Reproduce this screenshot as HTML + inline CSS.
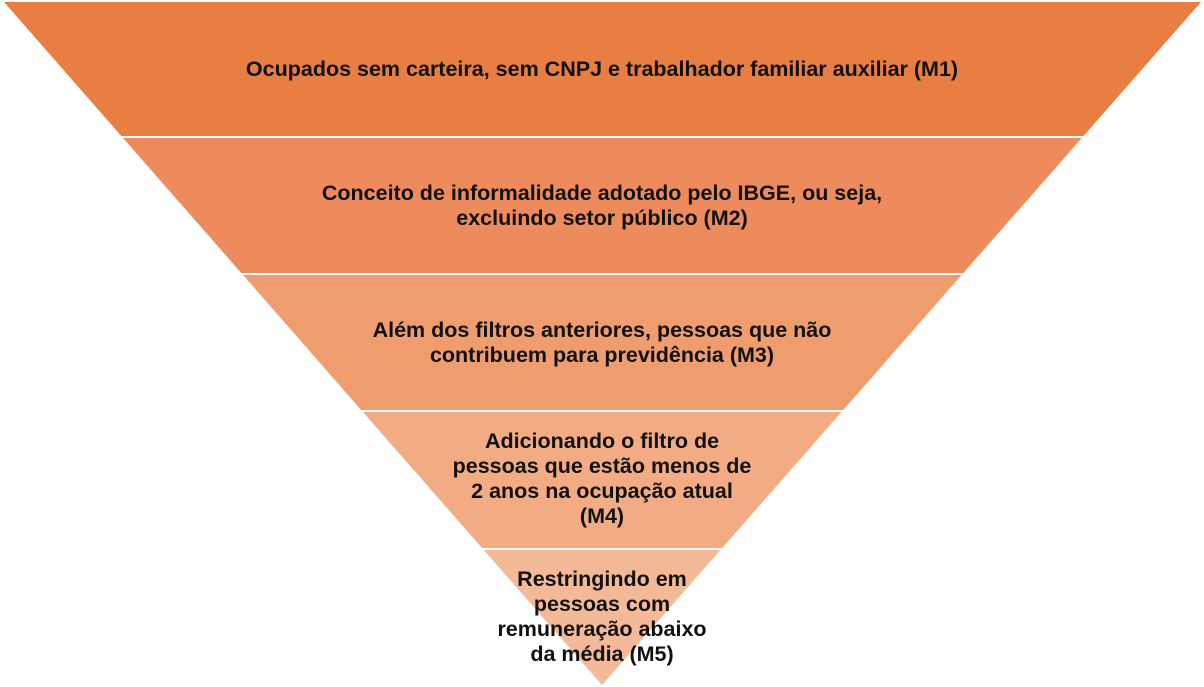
<!DOCTYPE html><html><head><style>
body{margin:0;width:1204px;height:687px;background:#fff;overflow:hidden;position:relative;font-family:"Liberation Sans",sans-serif}
.t{position:absolute;left:0;width:1204px;text-align:center;font-weight:bold;font-size:21.5px;line-height:25px;color:#111}
</style></head><body>
<svg width="1204" height="687" style="position:absolute;left:0;top:0">
<clipPath id="c"><polygon points="4,2 1201,2 602,685"/></clipPath>
<g clip-path="url(#c)">
<rect x="0" y="0" width="1204" height="136" fill="#E87E42"/>
<rect x="0" y="138" width="1204" height="135" fill="#ED8B5C"/>
<rect x="0" y="275" width="1204" height="135" fill="#EF9C6E"/>
<rect x="0" y="412" width="1204" height="136" fill="#F2AB82"/>
<rect x="0" y="550" width="1204" height="140" fill="#F4BA97"/>
</g></svg>
<div class="t" style="top:57px">Ocupados sem carteira, sem CNPJ e trabalhador familiar auxiliar (M1)</div>
<div class="t" style="top:181px">Conceito de informalidade adotado pelo IBGE, ou seja,<br>excluindo setor público (M2)</div>
<div class="t" style="top:318px">Além dos filtros anteriores, pessoas que não<br>contribuem para previdência (M3)</div>
<div class="t" style="top:429px">Adicionando o filtro de<br>pessoas que estão menos de<br>2 anos na ocupação atual<br>(M4)</div>
<div class="t" style="top:567px">Restringindo em<br>pessoas com<br>remuneração abaixo<br>da média (M5)</div>
</body></html>
